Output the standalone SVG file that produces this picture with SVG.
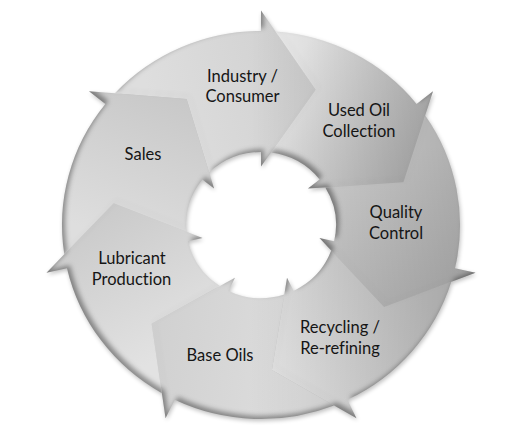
<svg xmlns="http://www.w3.org/2000/svg" width="528" height="427" viewBox="0 0 528 427">
<defs>
<style>
.lbl{font-family:Lato,"Open Sans","Liberation Sans",sans-serif;font-size:16.5px;fill:#151515;text-anchor:middle;font-variant-ligatures:none;font-feature-settings:"liga" 0,"clig" 0}
</style>
<path id="seg" d="M135.07,-146.14 A199,199 0 0 1 199,0 L220,0 L138.63,54.61 L60,0 L75,0 A75,75 0 0 0 54.13,-51.91 L129.13,-74.34 Z"/>
<linearGradient id="g0" gradientUnits="userSpaceOnUse" x1="93" y1="-100" x2="139" y2="55"><stop offset="0" stop-color="#dedede"/><stop offset="1" stop-color="#d0d0d0"/></linearGradient>
<linearGradient id="g1" gradientUnits="userSpaceOnUse" x1="93" y1="-100" x2="139" y2="55"><stop offset="0" stop-color="#ececec"/><stop offset="1" stop-color="#bebebe"/></linearGradient>
<linearGradient id="g2" gradientUnits="userSpaceOnUse" x1="93" y1="-100" x2="139" y2="55"><stop offset="0" stop-color="#dadada"/><stop offset="1" stop-color="#c4c4c4"/></linearGradient>
<linearGradient id="g3" gradientUnits="userSpaceOnUse" x1="93" y1="-100" x2="139" y2="55"><stop offset="0" stop-color="#d2d2d2"/><stop offset="1" stop-color="#e3e3e3"/></linearGradient>
<linearGradient id="g4" gradientUnits="userSpaceOnUse" x1="93" y1="-100" x2="139" y2="55"><stop offset="0" stop-color="#dedede"/><stop offset="1" stop-color="#d0d0d0"/></linearGradient>
<linearGradient id="g5" gradientUnits="userSpaceOnUse" x1="93" y1="-100" x2="139" y2="55"><stop offset="0" stop-color="#e2e2e2"/><stop offset="1" stop-color="#cacaca"/></linearGradient>
<linearGradient id="g6" gradientUnits="userSpaceOnUse" x1="93" y1="-100" x2="139" y2="55"><stop offset="0" stop-color="#dedede"/><stop offset="1" stop-color="#c8c8c8"/></linearGradient>
<linearGradient id="side" gradientUnits="userSpaceOnUse" x1="250" y1="0" x2="465" y2="0"><stop offset="0" stop-color="#000" stop-opacity="0"/><stop offset="1" stop-color="#000" stop-opacity="0.2"/></linearGradient>
<clipPath id="ringclip">
<use href="#seg" transform="translate(261,225) scale(1,0.975) rotate(-90)"/>
<use href="#seg" transform="translate(261,225) scale(1,0.975) rotate(-38.571)"/>
<use href="#seg" transform="translate(261,225) scale(1,0.975) rotate(12.857)"/>
<use href="#seg" transform="translate(261,225) scale(1,0.975) rotate(64.286)"/>
<use href="#seg" transform="translate(261,225) scale(1,0.975) rotate(115.714)"/>
<use href="#seg" transform="translate(261,225) scale(1,0.975) rotate(167.143)"/>
<use href="#seg" transform="translate(261,225) scale(1,0.975) rotate(218.571)"/>
</clipPath>
<filter id="drop" x="-10%" y="-10%" width="120%" height="120%">
<feGaussianBlur in="SourceAlpha" stdDeviation="2"/>
<feOffset dx="1" dy="2"/>
<feComponentTransfer><feFuncA type="linear" slope="0.25"/></feComponentTransfer>
</filter>
<filter id="inner" x="-10%" y="-10%" width="120%" height="120%">
<feOffset in="SourceAlpha" dx="3" dy="-3" result="o"/>
<feGaussianBlur in="o" stdDeviation="2.5" result="b"/>
<feComposite in="SourceAlpha" in2="b" operator="out" result="e"/>
<feFlood flood-color="#000" flood-opacity="0.38"/>
<feComposite in2="e" operator="in"/>
</filter>
</defs>
<rect width="528" height="427" fill="#fff"/>
<g id="shadow" filter="url(#drop)" transform="translate(261,225) scale(1,0.975)" fill="#000">
<use href="#seg" transform="rotate(-90)"/>
<use href="#seg" transform="rotate(-38.571)"/>
<use href="#seg" transform="rotate(12.857)"/>
<use href="#seg" transform="rotate(64.286)"/>
<use href="#seg" transform="rotate(115.714)"/>
<use href="#seg" transform="rotate(167.143)"/>
<use href="#seg" transform="rotate(218.571)"/>
</g>
<g id="segments">
<g id="industry-consumer"><use href="#seg" fill="url(#g0)" transform="translate(261,225) scale(1,0.975) rotate(-90)"/></g>
<g id="used-oil-collection"><use href="#seg" fill="url(#g1)" transform="translate(261,225) scale(1,0.975) rotate(-38.571)"/></g>
<g id="quality-control"><use href="#seg" fill="url(#g2)" transform="translate(261,225) scale(1,0.975) rotate(12.857)"/></g>
<g id="recycling"><use href="#seg" fill="url(#g3)" transform="translate(261,225) scale(1,0.975) rotate(64.286)"/></g>
<g id="base-oils"><use href="#seg" fill="url(#g4)" transform="translate(261,225) scale(1,0.975) rotate(115.714)"/></g>
<g id="lubricant-production"><use href="#seg" fill="url(#g5)" transform="translate(261,225) scale(1,0.975) rotate(167.143)"/></g>
<g id="sales"><use href="#seg" fill="url(#g6)" transform="translate(261,225) scale(1,0.975) rotate(218.571)"/></g>
</g>
<rect id="side-shade" x="0" y="0" width="528" height="427" fill="url(#side)" clip-path="url(#ringclip)"/>
<g id="edge-shade" filter="url(#inner)" transform="translate(261,225) scale(1,0.975)" fill="#000">
<use href="#seg" transform="rotate(-90)"/>
<use href="#seg" transform="rotate(-38.571)"/>
<use href="#seg" transform="rotate(12.857)"/>
<use href="#seg" transform="rotate(64.286)"/>
<use href="#seg" transform="rotate(115.714)"/>
<use href="#seg" transform="rotate(167.143)"/>
<use href="#seg" transform="rotate(218.571)"/>
</g>
<g id="labels">
<text class="lbl" x="242.5" y="81.7">Industry /</text>
<text class="lbl" x="242.5" y="101.9">Consumer</text>
<text class="lbl" x="359" y="116">Used Oil</text>
<text class="lbl" x="359" y="136.7">Collection</text>
<text class="lbl" x="396" y="218.3">Quality</text>
<text class="lbl" x="396" y="239">Control</text>
<text class="lbl" x="340" y="333.3">Recycling /</text>
<text class="lbl" x="340" y="354.2">Re-refining</text>
<text class="lbl" x="220" y="361">Base Oils</text>
<text class="lbl" x="132" y="264">Lubricant</text>
<text class="lbl" x="131.5" y="285">Production</text>
<text class="lbl" x="143" y="160">Sales</text>
</g>
</svg>
